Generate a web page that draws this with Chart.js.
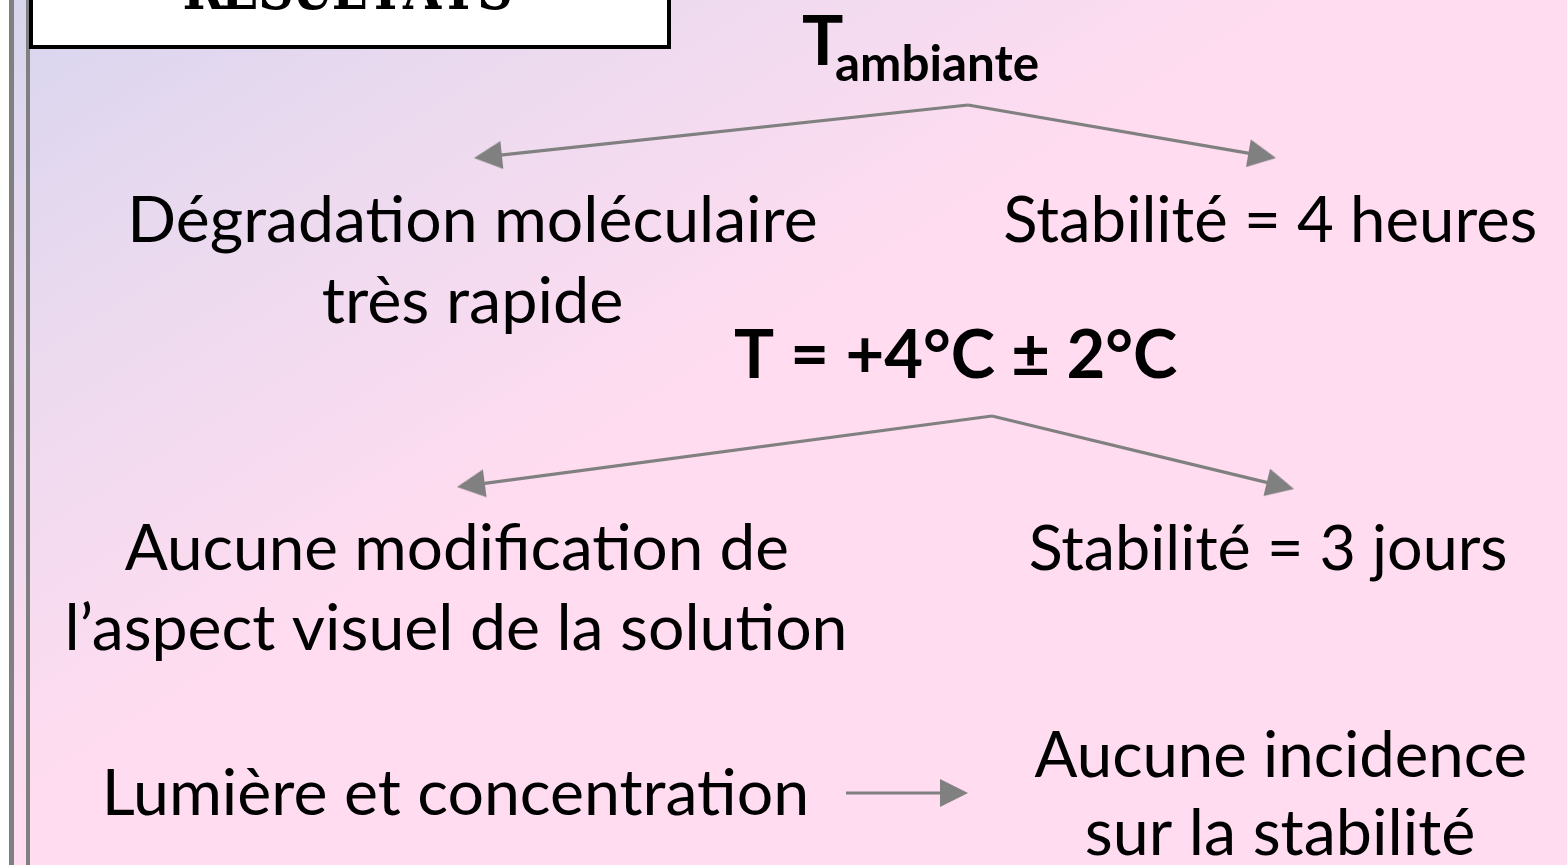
<!DOCTYPE html>
<html><head><meta charset="utf-8">
<script src="https://cdn.jsdelivr.net/npm/chart.js@4.4.0/dist/chart.umd.min.js"></script>
<style>html,body{margin:0;padding:0;overflow:hidden;background:#fff}#wrap{width:1567px;height:865px}</style>
</head><body><div id="wrap"><canvas id="c" width="1567" height="865"></canvas></div>
<script>
// ---- content ----
const boxTitle = "RÉSULTATS";
const headingMain = "T";
const headingSub = "ambiante";
const headingCold = "T = +4°C ± 2°C";
const textLabels = [
  "Dégradation moléculaire", "très rapide", "Stabilité = 4 heures",
  "Aucune modification de", "l’aspect visuel de la solution", "Stabilité = 3 jours",
  "Lumière et concentration", "Aucune incidence", "sur la stabilité"
];
// ---- layout (data units = pixels) ----
const textCenterX = [474, 472, 1270, 456, 456, 1268, 456, 1280, 1280];
const textBaseY   = [242, 323, 242, 570, 650, 570, 815, 777, 855];
const textInkW    = [682, 298, 530, 662, 775, 475, 698, 490, 386];
const arrowStartX = [968, 968, 992, 992, 846];
const arrowStartY = [105, 105, 416, 416, 793];
const arrowTipX   = [474, 1276, 457, 1294, 968];
const arrowTipY   = [158, 158, 487, 489, 793];

const W = 1567, H = 865, HEAD = 28;
const GRAY = '#808080';
const FONT = 'Lato, "Open Sans", sans-serif';

// arrow head image (pointing up), drawn by Chart.js as a rotated point style
const headImg = document.createElement('canvas');
headImg.width = HEAD; headImg.height = HEAD;
(function(){const g=headImg.getContext('2d');g.fillStyle=GRAY;g.beginPath();g.moveTo(HEAD/2,0);g.lineTo(HEAD,HEAD);g.lineTo(0,HEAD);g.closePath();g.fill();})();

const lineSets = [], headPts = [], headRot = [];
for (let i = 0; i < arrowTipX.length; i++) {
  const dx = arrowTipX[i] - arrowStartX[i], dy = arrowTipY[i] - arrowStartY[i];
  const L = Math.hypot(dx, dy), ux = dx / L, uy = dy / L;
  lineSets.push({
    type: 'scatter', showLine: true, borderColor: GRAY, borderWidth: 3.2,
    pointRadius: 0, order: 2, clip: false,
    data: [{x: arrowStartX[i], y: arrowStartY[i]}, {x: arrowTipX[i] - ux * (HEAD - 4), y: arrowTipY[i] - uy * (HEAD - 4)}]
  });
  headPts.push({x: arrowTipX[i] - ux * HEAD / 2, y: arrowTipY[i] - uy * HEAD / 2});
  headRot.push(Math.atan2(dx, -dy) * 180 / Math.PI);
}

function fitFont(ctx, txt, weight, targetW) {
  ctx.font = weight + ' 100px ' + FONT;
  const m = ctx.measureText(txt);
  const w = m.actualBoundingBoxLeft + m.actualBoundingBoxRight;
  return 100 * targetW / w;
}
function drawCentered(ctx, xs, ys, txt, weight, size, cx, by) {
  ctx.font = weight + ' ' + size.toFixed(2) + 'px ' + FONT;
  const m = ctx.measureText(txt);
  const w = m.actualBoundingBoxLeft + m.actualBoundingBoxRight;
  const px = xs.getPixelForValue(cx) - w / 2 + m.actualBoundingBoxLeft;
  ctx.fillText(txt, px, ys.getPixelForValue(by));
}

const bgPlugin = {
  id: 'bg',
  beforeDraw(chart) {
    const ctx = chart.ctx;
    ctx.save();
    ctx.fillStyle = '#fff'; ctx.fillRect(0, 0, W, H);
    const g = ctx.createLinearGradient(0, 0, 365, 584);
    g.addColorStop(0, '#d7d5ee');
    g.addColorStop(0.45, '#ebdaef');
    g.addColorStop(1, '#ffdcf0');
    ctx.fillStyle = g; ctx.fillRect(9, 0, W - 9, H);
    ctx.fillStyle = GRAY;
    ctx.fillRect(9, 0, 5, H);
    ctx.fillRect(26, 0, 4, H);
    // title box
    ctx.fillStyle = '#fff'; ctx.fillRect(31, -10, 638, 57);
    ctx.strokeStyle = '#000'; ctx.lineWidth = 4; ctx.strokeRect(31, -10, 638, 57);
    ctx.fillStyle = '#000';
    ctx.font = 'bold 60px "DejaVu Serif", "Liberation Serif", serif';
    ctx.textAlign = 'center'; ctx.textBaseline = 'alphabetic';
    const adv = 36.5, x0 = 349 - adv * boxTitle.length / 2;
    for (let i = 0; i < boxTitle.length; i++) {
      ctx.save();
      ctx.translate(x0 + adv * (i + 0.5), 9);
      ctx.scale(0.82, 1);
      ctx.fillText(boxTitle[i], 0, 0);
      ctx.restore();
    }
    ctx.restore();
  }
};
const textPlugin = {
  id: 'texts',
  afterDatasetsDraw(chart) {
    const ctx = chart.ctx, xs = chart.scales.x, ys = chart.scales.y;
    ctx.save();
    ctx.fillStyle = '#000'; ctx.textAlign = 'left'; ctx.textBaseline = 'alphabetic';
    for (let i = 0; i < textLabels.length; i++) {
      const s = fitFont(ctx, textLabels[i], 'normal', textInkW[i]);
      drawCentered(ctx, xs, ys, textLabels[i], 'normal', s, textCenterX[i], textBaseY[i]);
    }
    // T ambiante
    ctx.font = 'bold 69px ' + FONT;
    let m = ctx.measureText(headingMain);
    ctx.fillText(headingMain, xs.getPixelForValue(803) + m.actualBoundingBoxLeft, ys.getPixelForValue(65));
    const ss = fitFont(ctx, headingSub, 'bold', 202);
    ctx.font = 'bold ' + ss.toFixed(2) + 'px ' + FONT;
    m = ctx.measureText(headingSub);
    ctx.fillText(headingSub, xs.getPixelForValue(836) + m.actualBoundingBoxLeft, ys.getPixelForValue(81));
    const sc = fitFont(ctx, headingCold, 'bold', 442);
    drawCentered(ctx, xs, ys, headingCold, 'bold', sc, 956, 378);
    ctx.restore();
  }
};

function build() {
  new Chart(document.getElementById('c'), {
    type: 'scatter',
    data: {
      datasets: [{
        type: 'scatter', data: headPts, pointStyle: headImg, pointRotation: headRot,
        pointRadius: HEAD / 2, order: 1, showLine: false, clip: false
      }].concat(lineSets)
    },
    options: {
      responsive: false, animation: false, events: [],
      layout: {padding: 0, autoPadding: false},
      plugins: {legend: {display: false}, tooltip: {enabled: false}},
      scales: {
        x: {type: 'linear', min: 0, max: W, display: false},
        y: {type: 'linear', min: 0, max: H, reverse: true, display: false}
      }
    },
    plugins: [bgPlugin, textPlugin]
  });
}
const loads = ['normal 60px Lato', 'bold 60px Lato', 'bold 60px "DejaVu Serif"'].map(f => document.fonts.load(f).catch(() => null));
Promise.all(loads).then(build, build);
</script></body></html>
